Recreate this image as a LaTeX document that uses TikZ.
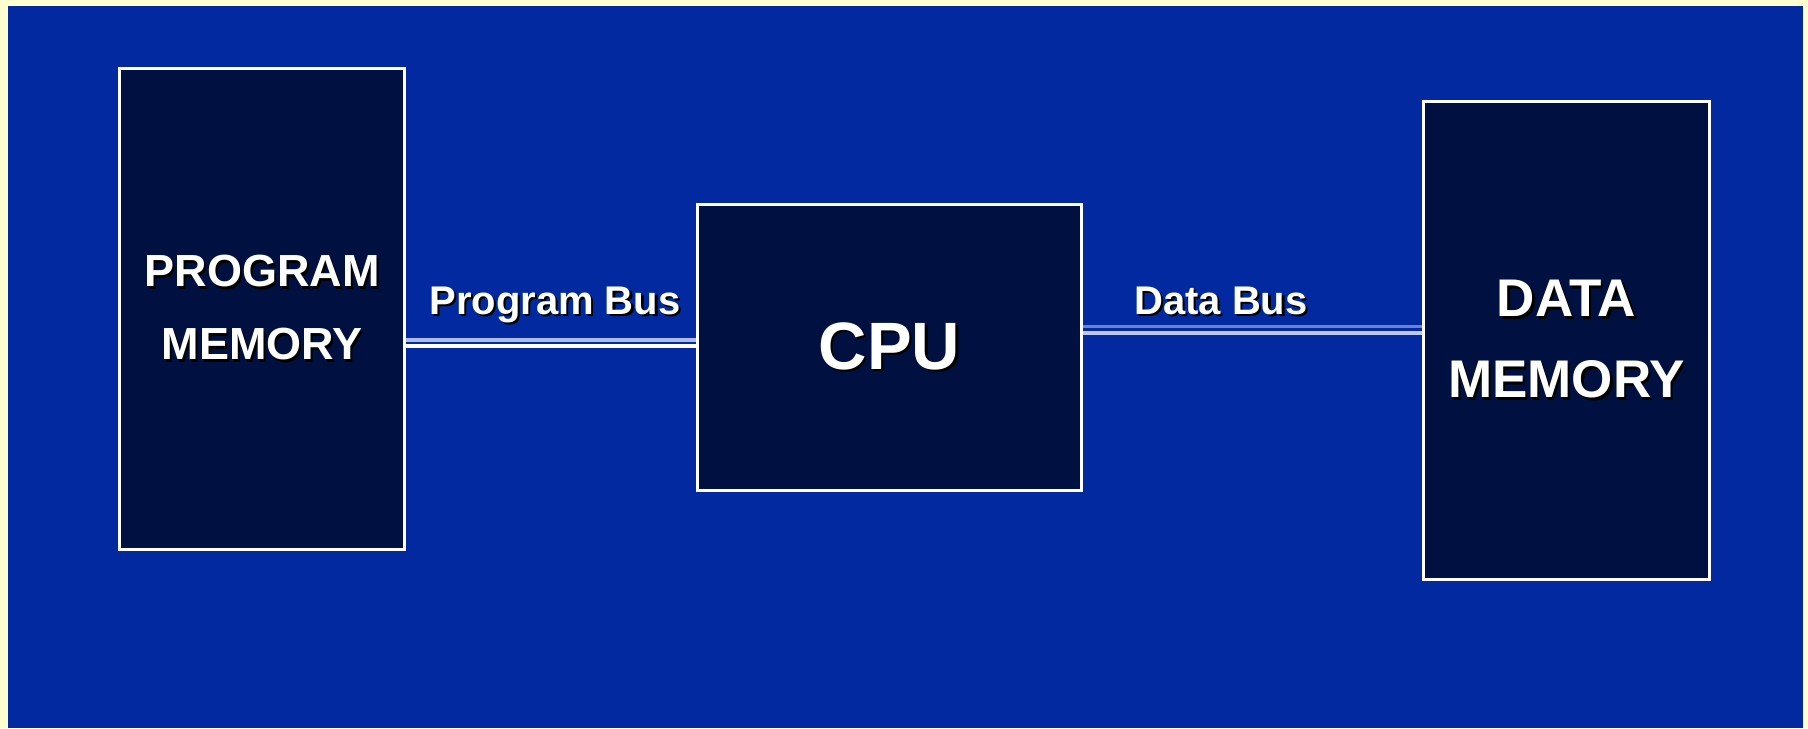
\documentclass[tikz,border=0pt]{standalone}
\usepackage{fontspec}
\setmainfont{Liberation Sans}
\usepackage{xcolor}
\usepackage{tikz}
\usetikzlibrary{positioning}

\definecolor{slidecream}{RGB}{255,255,208}
\definecolor{slideblue}{RGB}{3,41,161}
\definecolor{boxnavy}{RGB}{0,16,64}
\definecolor{busbright}{RGB}{176,188,232}
\definecolor{busmid}{RGB}{112,128,208}
\definecolor{buspale}{RGB}{192,200,240}

% white text with a small black drop shadow
\newcommand{\shtext}[1]{\makebox[0pt][l]{\kern1.1pt\raisebox{-1.1pt}{\textcolor{black}{#1}}}#1}

\begin{document}
\begin{tikzpicture}[
            x=0.5pt, y=-0.5pt,
            block/.style={rectangle, draw=white, line width=1.5pt, fill=boxnavy, text=white, align=center, inner sep=0pt},
            buslabel/.style={text=white, font=\fontsize{20}{24}\selectfont\bfseries, inner sep=0pt, anchor=base},
            busline/.style={draw, line width=1.6pt}
        ]

        % Slide background
        \useasboundingbox (0,0) rectangle (1808,728);
        \fill[slidecream] (0,0) rectangle (1808,728);
        \fill[slideblue] (8,6) rectangle (1803,728);

        % Main Nodes
        \node [block, minimum width=142.5pt, minimum height=240.5pt, font=\fontsize{22.5}{36.5}\selectfont\bfseries] (progmem) at (262,309) {\shtext{PROGRAM}\\\shtext{MEMORY}};
        \node [block, minimum width=192pt, minimum height=143pt, font=\fontsize{33.5}{40}\selectfont\bfseries] (cpu) at (889.5,347.5) {\shtext{CPU}};
        \node [block, minimum width=143pt, minimum height=239pt, font=\fontsize{26.5}{40.5}\selectfont\bfseries] (datamem) at (1566.5,340.5) {\shtext{DATA}\\\shtext{MEMORY}};

        % Bus coordinates
        \path (cpu.west) ++(0,-7.5) coordinate (pbhi) ++(0,6) coordinate (pblo);
        \path (cpu.east) ++(0,-21) coordinate (dbhi) ++(0,6.5) coordinate (dblo);

        % Edges
        \path [busline, busbright] (pbhi -| progmem.east) -- (pbhi);
        \path [busline, white] (pblo -| progmem.east) -- (pblo);
        \path [busline, busmid] (dbhi) -- (dbhi -| datamem.west);
        \path [busline, buspale] (dblo) -- (dblo -| datamem.west);

        % Bus labels
        \node [buslabel] (pblabel) at (555,314) {\shtext{Program Bus}};
        \node [buslabel] (dblabel) at (1221,314) {\shtext{Data Bus}};

    \end{tikzpicture}
\end{document}
